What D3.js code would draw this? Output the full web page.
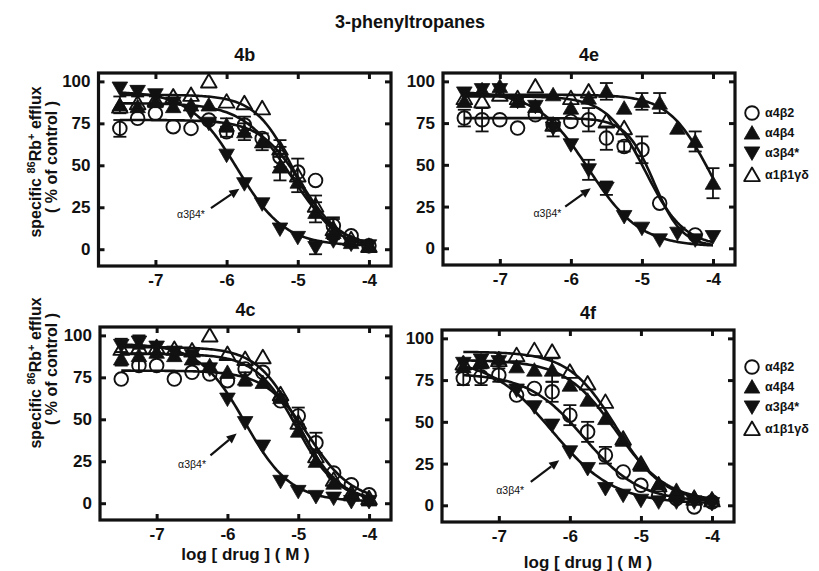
<!DOCTYPE html>
<html><head><meta charset="utf-8">
<script src="https://cdn.jsdelivr.net/npm/d3@7"></script>
<style>body{margin:0;background:#fff}svg{display:block}</style>
</head><body><svg id="c" width="819" height="571"></svg>
<script>
// ---------- DATA ----------
const logDose = [-7.5,-7.25,-7,-6.75,-6.5,-6.25,-6,-5.75,-5.5,-5.25,-5,-4.75,-4.5,-4.25,-4];
const xTickValues = [-7,-6,-5,-4];
const yTickValues = [0,25,50,75,100];
const seriesNames = ["α4β2","α4β4","α3β4*","α1β1γδ"];
const panelNames = ["4b","4e","4c","4f"];

// panel 4b
const b4_a4b2 = [72,78,81,73,72,77,70,74,66,55,46,41,14,8,2];
const b4_a4b4 = [86,85,88,85,86,86,74,70,64,49,40,22,10,4,2];
const b4_a3b4 = [96,94,92,87,82,75,56,39,27,12,7,1,5,3,2];
const b4_a1b1 = [85,87,89,91,92,100,88,87,84,60,44,26,12,6,2];
const b4_a4b2_err = [5,0,0,0,0,0,3,5,0,6,0,0,5,0,0];
const b4_a4b4_err = [5,0,3,0,0,0,4,5,5,8,0,6,0,0,0];
const b4_a3b4_err = [0,3,0,0,0,0,0,0,0,0,0,4,0,0,0];
const b4_a1b1_err = [0,0,0,0,0,0,0,0,0,5,10,6,6,0,0];
// panel 4e
const e4_a4b2 = [78,77,77,72,80,74,76,77,66,61,59,27,null,8,null];
const e4_a4b4 = [88,95,97,88,85,92,84,90,94,84,88,87,72,64,39];
const e4_a3b4 = [93,95,95,88,85,72,62,47,36,19,12,5,9,5,7];
const e4_a1b1 = [90,88,92,90,97,74,90,94,76,72,null,null,null,null,null];
const e4_a4b2_err = [5,7,0,0,0,0,0,7,7,3,8,0,0,0,0];
const e4_a4b4_err = [0,0,0,0,0,0,0,0,5,0,5,6,0,6,9];
const e4_a3b4_err = [0,0,0,0,0,5,0,6,4,0,0,0,0,0,0];
const e4_a1b1_err = [0,0,0,0,0,0,0,0,0,0,0,0,0,0,0];
// panel 4c
const c4_a4b2 = [74,82,82,74,78,77,73,80,78,61,52,36,18,11,5];
const c4_a4b4 = [86,88,90,88,86,82,78,74,72,63,43,25,12,5,2];
const c4_a3b4 = [94,96,93,90,88,80,62,48,34,13,7,4,3,1,1];
const c4_a1b1 = [92,93,93,92,91,100,89,86,87,65,48,28,14,6,3];
const c4_a4b2_err = [0,3,0,0,0,0,0,0,0,0,5,6,0,0,0];
const c4_a4b4_err = [4,0,0,0,0,0,0,4,0,0,0,0,0,0,0];
const c4_a3b4_err = [4,4,0,0,0,0,0,0,0,0,0,0,0,0,0];
const c4_a1b1_err = [0,0,0,0,0,0,0,0,0,0,0,0,0,0,0];
// panel 4f
const f4_a4b2 = [76,77,78,66,70,68,54,44,30,20,12,6,4,-1,2];
const f4_a4b4 = [83,86,88,83,81,81,72,63,52,39,24,13,9,5,4];
const f4_a3b4 = [85,87,86,69,59,48,32,22,10,6,3,2,2,2,1];
const f4_a1b1 = [85,86,87,90,93,92,80,73,62,40,25,12,7,4,3];
const f4_a4b2_err = [4,5,4,0,0,6,6,6,5,0,0,0,0,0,0];
const f4_a4b4_err = [0,0,0,0,0,7,0,0,0,0,0,0,0,0,0];
const f4_a3b4_err = [0,0,0,0,0,0,0,0,0,0,0,0,0,0,0];
const f4_a1b1_err = [0,0,0,0,0,0,0,0,0,0,0,0,0,0,0];

// fitted curve parameters, series order: α4β2, α4β4, α3β4*, α1β1γδ
const fitTop_4b = [77,87,94,92], fitBottom_4b = [1,1,2,1], fitLogIC50_4b = [-4.95,-5.1,-5.85,-5.05], fitHill_4b = [1.5,1.3,1.3,1.6];
const fitTop_4e = [78,92,94,91], fitBottom_4e = [1,0,1,1], fitLogIC50_4e = [-4.83,-4.05,-5.75,-4.95], fitHill_4e = [2.2,1.5,1.2,1.6];
const fitTop_4c = [79,89,95,93], fitBottom_4c = [1,1,1,1], fitLogIC50_4c = [-4.85,-5.02,-5.75,-5.0], fitHill_4c = [1.4,1.5,1.35,1.5];
const fitTop_4f = [79,87,88,92], fitBottom_4f = [2,2,1,2], fitLogIC50_4f = [-5.8,-5.35,-6.25,-5.35], fitHill_4f = [1.1,1.2,1.0,1.3];

// "α3β4*" annotation (data coords) per panel 4b,4e,4c,4f
const annotX = [-6.5,-6.33,-6.5,-6.84], annotY = [21,21,23,9];
const arrowX0 = [-6.22,-6.08,-6.24,-6.55], arrowY0 = [24.5,25,28.5,14];
const arrowX1 = [-5.82,-5.72,-5.87,-6.15], arrowY1 = [36,36,41.5,27];

// ---------- LAYOUT ----------
const FONT = '"Liberation Sans", Arial, Helvetica, sans-serif';
const panelBoxes = [
  {l:98.5, r:391, t:73, b:266},
  {l:443, r:735, t:73, b:265},
  {l:100, r:391, t:327, b:520},
  {l:442, r:734, t:330, b:522}
];
const panelData = [
  {vals:[b4_a4b2,b4_a4b4,b4_a3b4,b4_a1b1], errs:[b4_a4b2_err,b4_a4b4_err,b4_a3b4_err,b4_a1b1_err], fit:[fitTop_4b,fitBottom_4b,fitLogIC50_4b,fitHill_4b]},
  {vals:[e4_a4b2,e4_a4b4,e4_a3b4,e4_a1b1], errs:[e4_a4b2_err,e4_a4b4_err,e4_a3b4_err,e4_a1b1_err], fit:[fitTop_4e,fitBottom_4e,fitLogIC50_4e,fitHill_4e]},
  {vals:[c4_a4b2,c4_a4b4,c4_a3b4,c4_a1b1], errs:[c4_a4b2_err,c4_a4b4_err,c4_a3b4_err,c4_a1b1_err], fit:[fitTop_4c,fitBottom_4c,fitLogIC50_4c,fitHill_4c]},
  {vals:[f4_a4b2,f4_a4b4,f4_a3b4,f4_a1b1], errs:[f4_a4b2_err,f4_a4b4_err,f4_a3b4_err,f4_a1b1_err], fit:[fitTop_4f,fitBottom_4f,fitLogIC50_4f,fitHill_4f]}
];
const titleY = [61,61,316,319];
const xLabelY = [null,null,560,568];
const legendRows = [null,[113,133,153,175],null,[367,387,407,429]];

const svg = d3.select("#c");

svg.append("text").attr("x",410).attr("y",28).attr("text-anchor","middle")
  .attr("font-family",FONT).attr("font-weight","bold").attr("font-size",18).attr("fill","#111")
  .text("3-phenyltropanes");

// y-axis labels
[[162,157],[373,369]].forEach(([c1,c2])=>{
  const t1 = svg.append("text").attr("transform",`translate(41,${c1}) rotate(-90)`)
    .attr("text-anchor","middle").attr("font-family",FONT).attr("font-weight","bold")
    .attr("font-size",16).attr("fill","#111");
  t1.append("tspan").text("specific ");
  t1.append("tspan").attr("font-size",11).attr("dy",-6).text("86");
  t1.append("tspan").attr("dy",6).text("Rb");
  t1.append("tspan").attr("font-size",11).attr("dy",-6).text("+");
  t1.append("tspan").attr("dy",6).text(" efflux");
  svg.append("text").attr("transform",`translate(57,${c2}) rotate(-90)`)
    .attr("text-anchor","middle").attr("font-family",FONT).attr("font-weight","bold")
    .attr("font-size",16).attr("fill","#111").text("( % of control )");
});

function symbolPath(i){
  if(i===0) return d3.symbol(d3.symbolCircle, Math.PI*6.8*6.8)();
  if(i===1 || i===3) return "M0,-7.4L7.8,6.1L-7.8,6.1Z";
  return "M0,7.4L7.8,-6.1L-7.8,-6.1Z";
}
function styleSymbol(sel,i){
  const filled = (i===1||i===2);
  sel.attr("d",symbolPath(i))
    .attr("fill", filled ? "#111" : "none")
    .attr("stroke","#111")
    .attr("stroke-width", filled ? 0.8 : 1.9)
    .attr("stroke-linejoin","round");
}

panelBoxes.forEach((bx,pi)=>{
  const x = d3.scaleLinear().domain([-7.8,-3.69]).range([bx.l,bx.r]);
  const y = d3.scaleLinear().domain([-10,105]).range([bx.b,bx.t]);
  const g = svg.append("g");
  const pd = panelData[pi];

  // title
  svg.append("text").attr("x",(bx.l+bx.r)/2).attr("y",titleY[pi]).attr("text-anchor","middle")
    .attr("font-family",FONT).attr("font-weight","bold").attr("font-size",18).attr("fill","#111")
    .text(panelNames[pi]);

  // axes
  const axL = g.append("g").attr("transform",`translate(${bx.l},0)`)
    .call(d3.axisLeft(y).tickValues(yTickValues).tickSize(-6).tickPadding(8).tickFormat(d=>String(d)));
  const axB = g.append("g").attr("transform",`translate(0,${bx.b})`)
    .call(d3.axisBottom(x).tickValues(xTickValues).tickSize(-6).tickPadding(8).tickFormat(d=>String(d)));
  const axR = g.append("g").attr("transform",`translate(${bx.r},0)`)
    .call(d3.axisRight(y).tickValues(yTickValues).tickSize(-6).tickFormat(""));
  const axT = g.append("g").attr("transform",`translate(0,${bx.t})`)
    .call(d3.axisTop(x).tickValues(xTickValues).tickSize(-6).tickFormat(""));
  [axL,axB,axR,axT].forEach(a=>{
    a.select(".domain").remove();
    a.selectAll(".tick line").attr("stroke","#111").attr("stroke-width",3);
    a.selectAll("text").attr("font-family",FONT).attr("font-weight","bold").attr("font-size",17).attr("fill","#111");
  });
  g.append("rect").attr("x",bx.l).attr("y",bx.t).attr("width",bx.r-bx.l).attr("height",bx.b-bx.t)
    .attr("fill","none").attr("stroke","#111").attr("stroke-width",3.2);

  // error bars
  pd.vals.forEach((vals,si)=>{
    const errs = pd.errs[si];
    const pts = logDose.map((d,i)=>({d, v:vals[i], e:errs[i]})).filter(p=>p.v!==null && p.e>0);
    const eg = g.append("g").attr("stroke","#111").attr("stroke-width",1.8);
    pts.forEach(p=>{
      const cx = x(p.d), y0 = y(p.v-p.e), y1 = y(p.v+p.e);
      eg.append("line").attr("x1",cx).attr("x2",cx).attr("y1",y0).attr("y2",y1);
      eg.append("line").attr("x1",cx-6.5).attr("x2",cx+6.5).attr("y1",y0).attr("y2",y0);
      eg.append("line").attr("x1",cx-6.5).attr("x2",cx+6.5).attr("y1",y1).attr("y2",y1);
    });
  });

  // fitted curves
  const [tops,bots,ics,hills] = pd.fit;
  const xs = d3.range(-7.5,-3.999,0.025);
  const line = d3.line().x(d=>x(d[0])).y(d=>y(d[1]));
  tops.forEach((top,si)=>{
    const pts = xs.map(v=>[v, bots[si] + (top-bots[si])/(1+Math.pow(10,(v-ics[si])*hills[si]))]);
    g.append("path").attr("d",line(pts)).attr("fill","none").attr("stroke","#111").attr("stroke-width",2.6);
  });

  // markers
  pd.vals.forEach((vals,si)=>{
    g.append("g").selectAll("path").data(logDose.map((d,i)=>({d,v:vals[i]})).filter(p=>p.v!==null))
      .join("path").attr("transform",p=>`translate(${x(p.d)},${y(p.v)})`)
      .call(s=>styleSymbol(s,si));
  });

  // annotation
  g.append("text").attr("x",x(annotX[pi])).attr("y",y(annotY[pi])).attr("dy","0.35em")
    .attr("text-anchor","middle").attr("font-family",FONT).attr("font-size",10.5).attr("fill","#111")
    .text("α3β4*");
  const ax0 = x(arrowX0[pi]), ay0 = y(arrowY0[pi]), ax1 = x(arrowX1[pi]), ay1 = y(arrowY1[pi]);
  const ang = Math.atan2(ay1-ay0, ax1-ax0), L = 10, W = 4.5;
  const bxp = ax1 - L*Math.cos(ang), byp = ay1 - L*Math.sin(ang);
  g.append("line").attr("x1",ax0).attr("y1",ay0).attr("x2",bxp).attr("y2",byp)
    .attr("stroke","#111").attr("stroke-width",2.2);
  g.append("path").attr("d",`M${ax1},${ay1}L${bxp - W*Math.sin(ang)},${byp + W*Math.cos(ang)}L${bxp + W*Math.sin(ang)},${byp - W*Math.cos(ang)}Z`)
    .attr("fill","#111");

  // x label
  if(xLabelY[pi]!==null){
    svg.append("text").attr("x",(bx.l+bx.r)/2).attr("y",xLabelY[pi]).attr("text-anchor","middle")
      .attr("font-family",FONT).attr("font-weight","bold").attr("font-size",17).attr("fill","#111")
      .text("log [ drug ] ( M )");
  }
  // legend
  if(legendRows[pi]){
    const lg = svg.append("g");
    legendRows[pi].forEach((ry,si)=>{
      lg.append("path").attr("transform",`translate(752,${ry})`).call(s=>styleSymbol(s,si));
      lg.append("text").attr("x",765).attr("y",ry).attr("dy","0.35em")
        .attr("font-family",FONT).attr("font-weight","bold").attr("font-size",12.5).attr("fill","#111")
        .text(seriesNames[si]);
    });
  }
});
</script></body></html>
